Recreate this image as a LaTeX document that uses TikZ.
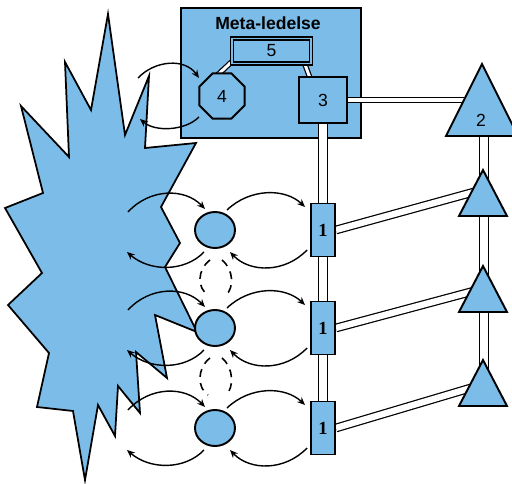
\documentclass[tikz,border=0pt]{standalone}
\usepackage{fontspec}
\setmainfont{Liberation Sans}
\newfontfamily\serifbold{Liberation Serif}
\usetikzlibrary{shapes.geometric,arrows.meta,calc}
\definecolor{sky}{RGB}{124,188,232}
\pgfdeclarelayer{back}
\pgfdeclarelayer{mid}
\pgfsetlayers{back,mid,main}
\begin{document}
\begin{tikzpicture}[x=0.02cm,y=-0.02cm,
  shp/.style={draw=black,fill=sky,line width=1.1pt,inner sep=0pt,font=\fontsize{10}{12}\selectfont},
  onebox/.style={shp,minimum width=24*0.02cm,minimum height=53*0.02cm,font=\serifbold\bfseries\fontsize{10.5}{11}\selectfont},
  blob/.style={shp,ellipse,minimum width=40*0.02cm,minimum height=36*0.02cm},
  dbl/.style={draw=black,double=white,line width=0.7pt,double distance=#1},
  arr/.style={-{Stealth[length=4.5pt,width=3.8pt]},line width=0.8pt},
  dsh/.style={dash pattern=on 4.5pt off 3.5pt,line width=0.9pt}]
\useasboundingbox (0,0) rectangle (512,484);

\begin{pgfonlayer}{back}
\draw[draw=black,fill=sky,line width=1pt,line join=miter]
  (108,14) -- (125,135) -- (149,76) -- (145,148) -- (196,143) -- (161,207)
  -- (180,243) -- (165,267) -- (197,332) -- (155,315) -- (167,378) -- (136,352)
  -- (140,413) -- (118,386) -- (115,436) -- (98,405) -- (85,480) -- (73,411)
  -- (37,407) -- (49,353) -- (8,305) -- (42,273) -- (5,208) -- (43,193)
  -- (21,106) -- (69,157) -- (65,62) -- (91,110) -- cycle;
\node[shp,line width=1.3pt,anchor=north west,minimum width=180*0.02cm,minimum height=130*0.02cm] (meta) at (180,7) {};
\end{pgfonlayer}

\node[font=\bfseries\fontsize{10}{12}\selectfont] (title) at (268,23) {Meta-ledelse};
\node[shp,double=sky,double distance=1pt,line width=0.9pt,minimum width=79*0.02cm,minimum height=25*0.02cm] (n5) at (271.5,51) {5};
\node[shp,regular polygon,regular polygon sides=8,minimum size=49*0.02cm] (n4) at (222,96) {4};
\node[shp,minimum width=48*0.02cm,minimum height=46*0.02cm] (n3) at (323,100) {3};

% triangles
\coordinate (t0) at (482,100);
\draw[shp] (482,64) -- (518,136) -- (446,136) -- cycle;
\node[font=\fontsize{10}{12}\selectfont] (l2) at (481,120) {2};

\foreach \i/\Y/\T/\E in {1/230/170/193, 2/328/266/292, 3/428/360/388}{
  \node[onebox] (b\i) at (323,\Y) {1};
  \node[blob] (c\i) at (215,\Y) {};
  \coordinate (t\i) at (483,\T+23);
  \coordinate (e\i) at (474,\E-1);
  \draw[shp] (483,\T) -- (507,\T+46) -- (459,\T+46) -- cycle;
  % arrows
  \draw[arr] ($(c\i)+(-87,-18)$) .. controls ($(c\i)+(-65,-42)$) and ($(c\i)+(-30,-42)$) .. ($(c\i)+(-10,-21)$);
  \draw[arr] ($(c\i)+(-11,22)$) .. controls ($(c\i)+(-30,42)$) and ($(c\i)+(-65,42)$) .. ($(c\i)+(-88,22)$);
  \draw[arr] ($(c\i)+(12,-20)$) .. controls ($(c\i)+(35,-42)$) and ($(c\i)+(70,-42)$) .. ($(b\i.west)+(-5,-23)$);
  \draw[arr] ($(b\i.west)+(-3,20)$) .. controls ($(c\i)+(70,43)$) and ($(c\i)+(35,43)$) .. ($(c\i)+(15,22)$);
}

% dashed arcs between circles
\foreach \a/\b in {c1/c2, c2/c3}{
  \draw[dsh] ($(\a)+(-5,30)$) .. controls ($(\a)+(-18,40)$) and ($(\b)+(-18,-40)$) .. ($(\b)+(-7,-33)$);
  \draw[dsh] ($(\a)+(7,30)$) .. controls ($(\a)+(19,40)$) and ($(\b)+(19,-40)$) .. ($(\b)+(11,-33)$);
}

% arrows at octagon
\draw[arr] (138,78) .. controls (155,60) and (185,58) .. ($(n4)+(-23,-18)$);
\draw[arr] ($(n4)+(-23,21)$) .. controls (185,131) and (155,132) .. (140,119);

\begin{pgfonlayer}{mid}
\draw[dbl=1.7pt] ($(n5.south west)+(1,-3)$) -- ($(n4.north)+(-6,4)$);
\draw[dbl=1.7pt] ($(n5.south east)+(-8,-3)$) -- ($(n3.north west)+(12,2)$);
\draw[dbl=2.2pt] (n3.east) -- (t0);
\draw[dbl=4.6pt] (n3.south) -- (b1.north);
\draw[dbl=4.6pt] (b1.south) -- (b2.north);
\draw[dbl=4.6pt] (b2.south) -- (b3.north);
\draw[dbl=4pt] (484,130) -- (484,380);
\draw[dbl=3.6pt] (b1.east) -- (e1);
\draw[dbl=3.6pt] (b2.east) -- (e2);
\draw[dbl=3.6pt] (b3.east) -- (e3);
\end{pgfonlayer}
\end{tikzpicture}
\end{document}
